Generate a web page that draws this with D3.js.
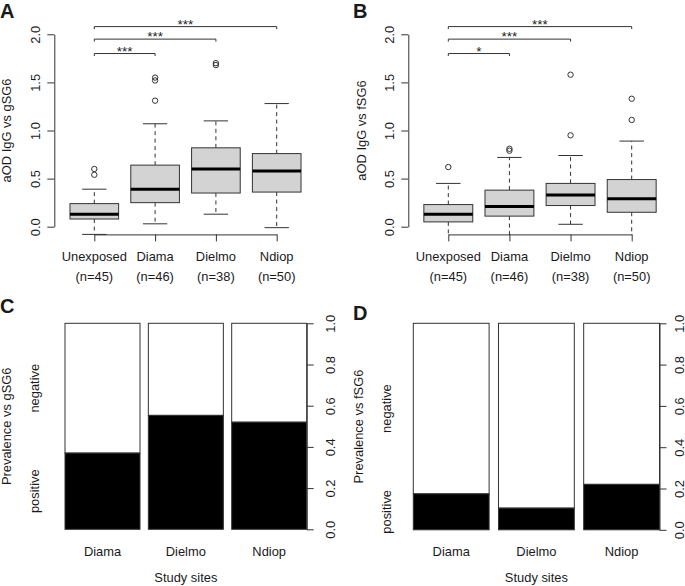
<!DOCTYPE html>
<html><head><meta charset="utf-8">
<script src="https://cdn.jsdelivr.net/npm/d3@7"></script>
<style>
body{margin:0;background:#fff}
svg{display:block}
text{font-family:"Liberation Sans",Arial,Helvetica,sans-serif;fill:#1a1a1a}
</style>
</head><body>
<svg id="chart" width="685" height="586"></svg>
<script>
// ---------- data ----------
const boxCategories = ["Unexposed", "Diama", "Dielmo", "Ndiop"];
const boxCounts = ["(n=45)", "(n=46)", "(n=38)", "(n=50)"];
const boxTicks = [0, 0.5, 1, 1.5, 2];

// Panel A: aOD IgG vs gSG6
const gSG6Lower  = [-0.08, 0.03, 0.13, -0.01];
const gSG6Q1     = [0.08, 0.25, 0.35, 0.36];
const gSG6Median = [0.13, 0.39, 0.60, 0.58];
const gSG6Q3     = [0.24, 0.64, 0.82, 0.76];
const gSG6Upper  = [0.39, 1.07, 1.10, 1.28];
const gSG6Outliers = [[0.60, 0.54], [1.55, 1.52, 1.31], [1.70, 1.68], []];
const gSG6Stars  = ["***", "***", "***"];

// Panel B: aOD IgG vs fSG6
const fSG6Lower  = [-0.12, -0.12, 0.025, -0.12];
const fSG6Q1     = [0.05, 0.11, 0.22, 0.15];
const fSG6Median = [0.13, 0.21, 0.33, 0.29];
const fSG6Q3     = [0.23, 0.38, 0.45, 0.49];
const fSG6Upper  = [0.45, 0.72, 0.74, 0.89];
const fSG6Outliers = [[0.62], [0.81, 0.79], [1.58, 0.95], [1.33, 1.11]];
const fSG6Stars  = ["*", "***", "***"];

// comparisons: Unexposed vs each site, bracket heights
const sigTargets = ["Diama", "Dielmo", "Ndiop"];
const sigHeights = [1.80, 1.95, 2.08];

// Panels C / D: prevalence (positive share)
const siteCategories = ["Diama", "Dielmo", "Ndiop"];
const gSG6Positive = [0.37, 0.553, 0.52];
const fSG6Positive = [0.174, 0.105, 0.22];
const propTicks = [0, 0.2, 0.4, 0.6, 0.8, 1.0];
const levelLabels = ["positive", "negative"];

// ---------- drawing ----------
const svg = d3.select("#chart");
const FS = 12.9;
const LINE = "#333";

function panelLetter(x, y, t) {
  svg.append("text").attr("x", x).attr("y", y).attr("font-size", 20)
    .attr("font-weight", "bold").attr("fill", "#000").text(t);
}

function rotLabel(g, x, y, t, size) {
  g.append("text").attr("transform", `translate(${x},${y}) rotate(-90)`)
    .attr("text-anchor", "middle").attr("font-size", size || FS).text(t);
}

function boxPanel(cfg, id) {
  const g = svg.append("g");
  const y = d3.scaleLinear().domain([0, 2]).range(cfg.yRange);
  const x = d3.scalePoint().domain(boxCategories).range(cfg.xRange);
  const step = x.step();
  const bw = step * 0.8;
  const floorY = y(-0.08);

  svg.append("defs").append("clipPath").attr("id", id)
    .append("rect").attr("x", 0).attr("y", 0).attr("width", 685).attr("height", floorY + 0.6);

  const pg = g.append("g").attr("clip-path", `url(#${id})`);
  boxCategories.forEach((c, i) => {
    const cx = x(c);
    pg.append("line").attr("x1", cx).attr("x2", cx).attr("y1", y(cfg.q3[i])).attr("y2", y(cfg.upper[i]))
      .attr("stroke", LINE).attr("stroke-dasharray", "4,3.5");
    pg.append("line").attr("x1", cx).attr("x2", cx).attr("y1", y(cfg.q1[i])).attr("y2", y(cfg.lower[i]))
      .attr("stroke", LINE).attr("stroke-dasharray", "4,3.5");
    [cfg.upper[i], cfg.lower[i]].forEach(v => {
      pg.append("line").attr("x1", cx - bw / 4).attr("x2", cx + bw / 4).attr("y1", y(v)).attr("y2", y(v))
        .attr("stroke", LINE).attr("stroke-width", 1);
    });
    pg.append("rect").attr("x", cx - bw / 2).attr("width", bw)
      .attr("y", y(cfg.q3[i])).attr("height", y(cfg.q1[i]) - y(cfg.q3[i]))
      .attr("fill", "#d3d3d3").attr("stroke", LINE).attr("stroke-width", 1);
    pg.append("line").attr("x1", cx - bw / 2).attr("x2", cx + bw / 2)
      .attr("y1", y(cfg.median[i])).attr("y2", y(cfg.median[i]))
      .attr("stroke", "#000").attr("stroke-width", 3);
    cfg.outliers[i].forEach(v => {
      pg.append("circle").attr("cx", cx).attr("cy", y(v)).attr("r", 2.7)
        .attr("fill", "none").attr("stroke", LINE).attr("stroke-width", 1);
    });
  });

  const ya = g.append("g").attr("transform", `translate(${cfg.axisX},0)`)
    .call(d3.axisLeft(y).tickValues(boxTicks).tickFormat(d3.format(".1f")).tickSize(7).tickSizeOuter(0));
  ya.select(".domain").attr("stroke", LINE);
  ya.selectAll(".tick line").attr("stroke", LINE);
  ya.selectAll(".tick text").attr("transform", "rotate(-90)").attr("text-anchor", "middle")
    .attr("x", 0).attr("y", -14).attr("dy", 0).attr("font-size", FS)
    .attr("font-family", null).attr("fill", "#1a1a1a");

  const xa = g.append("g").attr("transform", `translate(0,${floorY})`)
    .call(d3.axisBottom(x).tickSize(7).tickSizeOuter(0).tickFormat(""));
  xa.select(".domain").attr("stroke", LINE);
  xa.selectAll(".tick line").attr("stroke", LINE);
  boxCategories.forEach((c, i) => {
    g.append("text").attr("x", x(c)).attr("y", cfg.catY).attr("text-anchor", "middle")
      .attr("font-size", FS).text(c);
    g.append("text").attr("x", x(c)).attr("y", cfg.catY + 19.5).attr("text-anchor", "middle")
      .attr("font-size", FS).text(boxCounts[i]);
  });

  sigTargets.forEach((t, i) => {
    const x0 = x(boxCategories[0]), x1 = x(t), yy = y(sigHeights[i]);
    g.append("path").attr("d", `M${x0},${yy + 2.5}V${yy}H${x1}V${yy + 2.5}`)
      .attr("fill", "none").attr("stroke", LINE).attr("stroke-width", 1);
    g.append("text").attr("x", (x0 + x1) / 2).attr("y", yy + 2).attr("text-anchor", "middle")
      .attr("font-size", 13.5).text(cfg.stars[i]);
  });

  rotLabel(g, cfg.labelX, (cfg.yRange[0] + cfg.yRange[1]) / 2, cfg.yLabel);
  panelLetter(cfg.letterX, 18.3, cfg.letter);
}

function spinePanel(cfg) {
  const g = svg.append("g");
  const y = d3.scaleLinear().domain([0, 1]).range(cfg.yRange);
  const x = d3.scaleBand().domain(siteCategories).range(cfg.xRange).paddingInner(cfg.pad).paddingOuter(0);
  siteCategories.forEach((c, i) => {
    const p = cfg.positive[i];
    g.append("rect").attr("x", x(c)).attr("width", x.bandwidth())
      .attr("y", y(1)).attr("height", y(p) - y(1))
      .attr("fill", "#fff").attr("stroke", LINE).attr("stroke-width", 1);
    g.append("rect").attr("x", x(c)).attr("width", x.bandwidth())
      .attr("y", y(p)).attr("height", y(0) - y(p))
      .attr("fill", "#000").attr("stroke", LINE).attr("stroke-width", 1);
    g.append("text").attr("x", x(c) + x.bandwidth() / 2).attr("y", 556)
      .attr("text-anchor", "middle").attr("font-size", FS).text(c);
  });
  const ya = g.append("g").attr("transform", `translate(${cfg.xRange[1]},0)`)
    .call(d3.axisRight(y).tickValues(propTicks).tickFormat(d3.format(".1f")).tickSize(7).tickSizeOuter(0));
  ya.select(".domain").attr("stroke", LINE);
  ya.selectAll(".tick line").attr("stroke", LINE);
  ya.selectAll(".tick text").attr("transform", "rotate(-90)").attr("text-anchor", "middle")
    .attr("x", 0).attr("y", cfg.tickGap).attr("dy", 0).attr("font-size", FS)
    .attr("font-family", null).attr("fill", "#1a1a1a");

  const p0 = cfg.positive[0];
  rotLabel(g, cfg.levelX, (y(0) + y(p0)) / 2, levelLabels[0]);
  rotLabel(g, cfg.levelX, (y(p0) + y(1)) / 2, levelLabels[1]);
  rotLabel(g, cfg.labelX, (cfg.yRange[0] + cfg.yRange[1]) / 2, cfg.yLabel);
  g.append("text").attr("x", (cfg.xRange[0] + cfg.xRange[1]) / 2).attr("y", 581.5)
    .attr("text-anchor", "middle").attr("font-size", FS).text("Study sites");
  panelLetter(cfg.letterX, cfg.letterY, cfg.letter);
}

boxPanel({
  axisX: 54.3, xRange: [94.3, 276.7], yRange: [226.7, 34.3], catY: 261,
  labelX: 11, yLabel: "aOD IgG vs gSG6", letter: "A", letterX: 0,
  lower: gSG6Lower, q1: gSG6Q1, median: gSG6Median, q3: gSG6Q3, upper: gSG6Upper,
  outliers: gSG6Outliers, stars: gSG6Stars
}, "clipA");

boxPanel({
  axisX: 408.3, xRange: [448.3, 631.7], yRange: [226.7, 34.3], catY: 261,
  labelX: 366, yLabel: "aOD IgG vs fSG6", letter: "B", letterX: 353,
  lower: fSG6Lower, q1: fSG6Q1, median: fSG6Median, q3: fSG6Q3, upper: fSG6Upper,
  outliers: fSG6Outliers, stars: fSG6Stars
}, "clipB");

spinePanel({
  xRange: [65, 306.7], yRange: [529.3, 323.3], pad: 0.1, positive: gSG6Positive, tickGap: 28.5,
  levelX: 38.5, labelX: 11, yLabel: "Prevalence vs gSG6", letter: "C", letterX: 0, letterY: 312.7
});

spinePanel({
  xRange: [413.3, 659.5], yRange: [529.8, 323.3], pad: 0.11, positive: fSG6Positive, tickGap: 24,
  levelX: 391, labelX: 363, yLabel: "Prevalence vs fSG6", letter: "D", letterX: 353, letterY: 320
});
</script>
</body></html>
